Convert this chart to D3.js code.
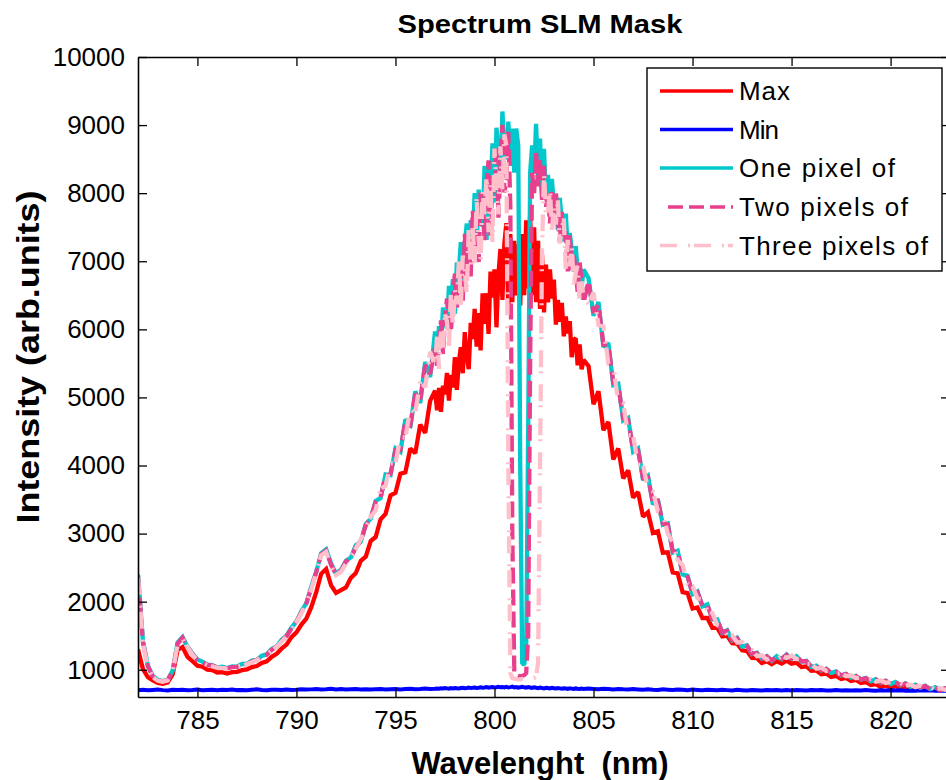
<!DOCTYPE html>
<html>
<head>
<meta charset="utf-8">
<script src="https://cdn.jsdelivr.net/npm/d3@7"></script>
<style>
  body { margin: 0; background: #fff; }
  svg { display: block; }
  text { font-family: "Liberation Sans", Arial, Helvetica, sans-serif; fill: #000; }
</style>
</head>
<body>
<svg id="chart" width="946" height="780"></svg>
<script>
// ---------------- DATA ----------------
const wavelength = [
  782, 782.25, 782.5, 782.75, 783, 783.25, 783.5, 783.75, 784, 784.25,
  784.5, 784.75, 785, 785.25, 785.5, 785.75, 786, 786.25, 786.5, 786.75,
  787, 787.25, 787.5, 787.75, 788, 788.25, 788.5, 788.75, 789, 789.25,
  789.5, 789.75, 790, 790.25, 790.5, 790.75, 791, 791.25, 791.5, 791.75,
  792, 792.25, 792.5, 792.75, 793, 793.25, 793.5, 793.75, 794, 794.25,
  794.5, 794.75, 795, 795.25, 795.5, 795.75, 796, 796.25, 796.5, 796.75,
  797, 797.1, 797.2, 797.3, 797.4, 797.5, 797.6, 797.7, 797.8, 797.9,
  798, 798.1, 798.2, 798.3, 798.4, 798.5, 798.6, 798.7, 798.8, 798.9,
  799, 799.1, 799.2, 799.3, 799.4, 799.5, 799.6, 799.7, 799.8, 799.9,
  800, 800.1, 800.2, 800.3, 800.4, 800.5,
  800.6, 800.7, 800.8, 800.9, 801, 801.1, 801.2, 801.3, 801.4, 801.5,
  801.6, 801.7, 801.8, 801.9, 802, 802.1, 802.2, 802.3, 802.4, 802.5, 802.6,
  802.7, 802.8, 802.9, 803, 803.1, 803.2, 803.3, 803.4, 803.5, 803.6,
  803.7, 803.8, 803.9, 804, 804.1, 804.2, 804.3, 804.4, 804.5,
  804.75, 805,
  805.25, 805.5, 805.75, 806, 806.25, 806.5, 806.75, 807, 807.25, 807.5,
  807.75, 808, 808.25, 808.5, 808.75, 809, 809.25, 809.5, 809.75, 810,
  810.25, 810.5, 810.75, 811, 811.25, 811.5, 811.75, 812, 812.25, 812.5,
  812.75, 813, 813.25, 813.5, 813.75, 814, 814.25, 814.5, 814.75, 815,
  815.25, 815.5, 815.75, 816, 816.25, 816.5, 816.75, 817, 817.25, 817.5,
  817.75, 818, 818.25, 818.5, 818.75, 819, 819.25, 819.5, 819.75, 820,
  820.25, 820.5, 820.75, 821, 821.25, 821.5, 821.75, 822, 822.25, 822.5,
  822.75, 823
];

const maxValues = [
  1300, 1010, 890, 845, 805, 795, 815, 930, 1290, 1335,
  1190, 1125, 1060, 1045, 1000, 995, 960, 965, 945, 965,
  970, 995, 1005, 1040, 1055, 1100, 1125, 1190, 1235, 1310,
  1370, 1480, 1550, 1665, 1750, 1920, 2140, 2410, 2480, 2240,
  2130, 2170, 2210, 2350, 2420, 2600, 2660, 2890, 2950, 3210,
  3290, 3560, 3600, 3880, 3900, 4250, 4180, 4600, 4480, 4950,
  5100, 4812, 5138, 4790, 5172, 5047, 5360, 4953, 5329, 5147,
  5592, 5110, 5520, 5737, 5355, 5960, 5610, 5416, 6097, 5860,
  6300, 5746, 6240, 5690, 6529, 6081, 6530, 5934, 6850, 6465,
  6880, 6030, 6808, 7180, 6432, 7264,
  7560, 6300, 7400, 6400, 7300, 6500, 7250, 6350, 7400, 6500,
  7600, 6600, 7700, 6500, 7500, 6400, 7300, 6300, 7100, 6250, 6950,
  6396, 6880, 6454, 6730, 6070, 6430, 6110, 6388, 5898, 6189,
  5940, 6120, 5590, 5846, 5868, 5472, 5780, 5413, 5552,
  5460, 4900,
  5090, 4520, 4640, 4090, 4250, 3810, 3930, 3530, 3610, 3250,
  3315, 3010, 3035, 2720, 2725, 2430, 2415, 2140, 2125, 1900,
  1915, 1760, 1760, 1615, 1615, 1490, 1500, 1390, 1385, 1285,
  1275, 1175, 1170, 1100, 1125, 1080, 1125, 1090, 1135, 1090,
  1105, 1040, 1050, 985, 990, 935, 945, 895, 910, 865,
  880, 835, 850, 805, 820, 775, 790, 747, 770, 735,
  762, 730, 755, 720, 747, 715, 740, 705, 730, 695,
  722, 690
];

const minValues = [
  700, 706, 698, 703, 709, 701, 697, 705, 702, 708,
  699, 704, 711, 700, 703, 707, 698, 705, 702, 709,
  701, 704, 699, 706, 712, 703, 700, 708, 705, 702,
  710, 704, 707, 715, 709, 712, 718, 710, 714, 720,
  712, 716, 709, 714, 718, 711, 715, 709, 713, 717,
  710, 714, 719, 712, 716, 721, 714, 718, 724, 717,
  720, 726, 722, 729, 724, 731, 727, 722, 730, 726,
  733, 728, 724, 731, 736, 729, 733, 738, 731, 735,
  740, 733, 737, 742, 736, 740, 745, 738, 742, 747,
  740, 744, 749, 742, 746, 741,
  748, 739, 745, 752, 741, 747, 738, 744, 750, 742,
  736, 745, 739, 733, 741, 736, 730, 738, 732, 727, 735,
  731, 726, 734, 729, 724, 732, 727, 722, 729, 725,
  720, 728, 723, 718, 726, 721, 717, 724, 719,
  725, 719,
  714, 722, 716, 711, 719, 713, 709, 716, 711, 706,
  714, 708, 704, 712, 707, 703, 710, 705, 701, 709,
  704, 700, 707, 702, 698, 706, 701, 697, 705, 700,
  696, 704, 699, 695, 703, 698, 702, 697, 701, 696,
  704, 699, 695, 703, 698, 702, 697, 694, 701, 696,
  700, 695, 699, 694, 702, 697, 693, 700, 695, 699,
  694, 698, 693, 697, 692, 699, 694, 698, 693, 697,
  692, 696
];

const onePixel = [
  2400, 1420, 1060, 910, 850, 835, 850, 990, 1400, 1480,
  1340, 1240, 1150, 1120, 1075, 1070, 1035, 1045, 1025, 1050,
  1045, 1085, 1085, 1135, 1145, 1205, 1225, 1305, 1345, 1440,
  1500, 1620, 1710, 1860, 1980, 2220, 2440, 2710, 2770, 2560,
  2410, 2470, 2600, 2650, 2830, 2880, 3140, 3220, 3480, 3520,
  3870, 3860, 4250, 4200, 4680, 4560, 5090, 4920, 5520, 5300,
  5970, 5682, 6048, 5728, 6320, 6130, 6012, 6640, 6308, 6736,
  6230, 6984, 6850, 7280, 6730, 7242, 7555, 6854, 7604, 7350,
  8000, 7196, 8052, 7792, 7508, 8400, 7313, 8408, 8040, 8733,
  7860, 8960, 8630, 8235, 9200, 8620,
  8500, 9050, 8400, 8950, 8300, 8950, 8700, 4000, 1100, 1070,
  1300, 4500, 8300, 8700, 8300, 9020, 8200, 8800, 8000, 8650, 7900,
  8270, 7790, 8210, 7790, 7940, 7460, 7930, 7580, 7290, 7700,
  7180, 7413, 7184, 6850, 7220, 6865, 6968, 6628, 6878,
  6750, 6200,
  6400, 5740, 5800, 5180, 5200, 4660, 4700, 4200, 4250, 3790,
  3850, 3430, 3500, 3130, 3150, 2720, 2750, 2400, 2380, 2110,
  2150, 1930, 1960, 1740, 1740, 1540, 1580, 1430, 1470, 1340,
  1360, 1230, 1250, 1160, 1200, 1130, 1200, 1155, 1225, 1160,
  1200, 1120, 1130, 1040, 1060, 990, 1015, 955, 975, 915,
  940, 885, 910, 855, 880, 830, 860, 810, 840, 790,
  820, 770, 800, 750, 780, 735, 765, 715, 745, 705,
  730, 705
];

const twoPixels = [
  2380, 1400, 1050, 900, 845, 830, 848, 980, 1385, 1470,
  1335, 1230, 1145, 1110, 1072, 1060, 1032, 1035, 1022, 1040,
  1042, 1072, 1082, 1122, 1142, 1192, 1222, 1292, 1342, 1425,
  1495, 1605, 1705, 1845, 1975, 2200, 2435, 2695, 2750, 2540,
  2400, 2455, 2590, 2640, 2800, 2890, 3120, 3230, 3464, 3536,
  3850, 3880, 4224, 4226, 4648, 4592, 5052, 4958, 5476, 5344,
  5734, 5466, 5813, 6132, 5635, 6138, 6452, 6037, 5952, 6456,
  6818, 6322, 6580, 6995, 6409, 7402, 6900, 7234, 6778, 7740,
  7400, 7232, 6989, 8007, 7766, 7310, 8113, 8481, 7372, 8170,
  8010, 8700, 7640, 8400, 9004, 8010,
  8200, 8900, 7800, 3000, 960, 920, 910, 905, 910, 920,
  950, 1500, 5500, 8300, 8000, 8600, 8100, 8500, 7900, 8400, 7800,
  8000, 7555, 8020, 7610, 8005, 7630, 7280, 7725, 7330, 7440,
  6850, 7382, 6870, 7100, 6840, 6550, 6982, 6687, 6391,
  6706, 6240,
  6360, 5776, 5764, 5212, 5168, 4690, 4670, 4228, 4222, 3816,
  3826, 3452, 3480, 3150, 3132, 2738, 2734, 2416, 2366, 2124,
  2138, 1942, 1949, 1751, 1730, 1550, 1571, 1439, 1462, 1348,
  1353, 1237, 1244, 1166, 1194, 1136, 1194, 1161, 1219, 1166,
  1195, 1125, 1125, 1045, 1055, 995, 1011, 959, 971, 919,
  936, 889, 906, 859, 876, 834, 856, 814, 836, 794,
  816, 774, 796, 754, 776, 739, 761, 719, 741, 699,
  726, 686
];

const threePixels = [
  2350, 1380, 1040, 890, 840, 825, 845, 970, 1370, 1460,
  1330, 1220, 1140, 1100, 1070, 1050, 1030, 1025, 1020, 1030,
  1040, 1060, 1080, 1110, 1140, 1180, 1220, 1280, 1340, 1410,
  1490, 1590, 1700, 1830, 1970, 2180, 2430, 2680, 2730, 2520,
  2390, 2440, 2560, 2660, 2780, 2920, 3080, 3250, 3340, 3660,
  3700, 4030, 4030, 4420, 4410, 4830, 4770, 5240, 5150, 5670,
  5468, 5891, 5421, 5968, 5725, 6225, 6116, 5742, 6553, 6022,
  6589, 6369, 7023, 6339, 7084, 6895, 6503, 7491, 6909, 7513,
  6980, 7921, 7322, 6997, 8024, 7693, 8260, 7428, 8159, 7275,
  8655, 8063, 7688, 8690, 8043, 8865,
  8700, 4000, 950, 880, 870, 865, 860, 860, 865, 860,
  865, 870, 870, 875, 880, 900, 1100, 4000, 7200, 8300, 7700,
  7705, 8058, 7435, 7825, 7540, 7893, 7260, 7480, 7625, 6888,
  7313, 6926, 7231, 6648, 6828, 6943, 6411, 6703, 6446,
  6376, 6540,
  6060, 6046, 5494, 5452, 4928, 4915, 4445, 4438, 4012, 4011,
  3646, 3617, 3330, 3300, 2997, 2873, 2614, 2536, 2261, 2229,
  2048, 2032, 1867, 1834, 1655, 1625, 1504, 1507, 1402, 1408,
  1300, 1290, 1199, 1211, 1149, 1181, 1149, 1206, 1174, 1211,
  1157, 1162, 1087, 1082, 1017, 1032, 981, 989, 941, 949,
  906, 919, 876, 889, 846, 864, 826, 844, 806, 824,
  786, 804, 766, 784, 746, 769, 731, 749, 711, 729,
  706, 716
];

const seriesNames = ["Max", "Min", "One pixel of", "Two pixels of", "Three pixels of"];
const xTickValues = [785, 790, 795, 800, 805, 810, 815, 820];
const yTickValues = [1000, 2000, 3000, 4000, 5000, 6000, 7000, 8000, 9000, 10000];
const titleText = "Spectrum SLM Mask";
const xLabelText = "Wavelenght  (nm)";
const yLabelText = "Intensity (arb.units)";

// ---------------- LAYOUT ----------------
const X0 = 138, X1 = 950, Y0 = 57, Y1 = 697;
const svg = d3.select("#chart");
const x = d3.scaleLinear().domain([782, 823]).range([X0, X1]);
const y = d3.scaleLinear().domain([600, 10000]).range([Y1, Y0]);

svg.append("defs").append("clipPath").attr("id", "plotClip")
  .append("rect").attr("x", X0).attr("y", Y0).attr("width", X1 - X0).attr("height", Y1 - Y0);

const styles = [
  { color: "#ff0000", dash: null, width: 4.3 },
  { color: "#0000ff", dash: null, width: 4.0 },
  { color: "#00c8cc", dash: null, width: 4.3 },
  { color: "#e8408c", dash: "16,6", width: 4.3 },
  { color: "#ffc0cb", dash: "17,11,2,4", width: 4.3 }
];
const valueLists = [maxValues, minValues, onePixel, twoPixels, threePixels];

const lineGen = d3.line().x(d => x(d[0])).y(d => y(d[1]));
const plot = svg.append("g").attr("clip-path", "url(#plotClip)");
valueLists.forEach((vals, k) => {
  const n = Math.min(vals.length, wavelength.length);
  const pts = [];
  for (let i = 0; i < n; i++) pts.push([wavelength[i], vals[i]]);
  plot.append("path")
    .attr("d", lineGen(pts))
    .attr("fill", "none")
    .attr("stroke", styles[k].color)
    .attr("stroke-width", styles[k].width)
    .attr("stroke-linejoin", "miter")
    .attr("stroke-miterlimit", 2)
    .attr("stroke-dasharray", styles[k].dash);
});

// ---------------- AXES ----------------
function styleAxis(g, showText) {
  g.select(".domain").attr("stroke", "#000").attr("stroke-width", 1.6);
  g.selectAll(".tick line").attr("stroke", "#000").attr("stroke-width", 1.3);
  g.selectAll(".tick text").attr("font-size", 26).attr("fill", "#000")
    .style("font-family", "'Liberation Sans', Arial, sans-serif");
  if (!showText) g.selectAll(".tick text").remove();
}
const fmt = d3.format("d");
const gB = svg.append("g").attr("transform", `translate(0,${Y1})`)
  .call(d3.axisBottom(x).tickValues(xTickValues).tickFormat(fmt).tickSizeInner(-9).tickSizeOuter(0).tickPadding(14));
styleAxis(gB, true);
const gT = svg.append("g").attr("transform", `translate(0,${Y0})`)
  .call(d3.axisTop(x).tickValues(xTickValues).tickSizeInner(-9).tickSizeOuter(0));
styleAxis(gT, false);
const gL = svg.append("g").attr("transform", `translate(${X0},0)`)
  .call(d3.axisLeft(y).tickValues(yTickValues).tickFormat(fmt).tickSizeInner(-9).tickSizeOuter(0).tickPadding(13));
styleAxis(gL, true);
const gR = svg.append("g").attr("transform", `translate(${X1},0)`)
  .call(d3.axisRight(y).tickValues(yTickValues).tickSizeInner(-9).tickSizeOuter(0));
styleAxis(gR, false);

// ---------------- TITLES ----------------
svg.append("text").attr("x", 540).attr("y", 33).attr("text-anchor", "middle")
  .attr("font-size", 26).attr("font-weight", "bold")
  .attr("textLength", 285).attr("lengthAdjust", "spacingAndGlyphs")
  .text(titleText);
svg.append("text").attr("x", 540).attr("y", 774).attr("text-anchor", "middle")
  .attr("font-size", 31).attr("font-weight", "bold").style("white-space", "pre")
  .text(xLabelText);
svg.append("text").attr("transform", "translate(39,357) rotate(-90)").attr("text-anchor", "middle")
  .attr("font-size", 31).attr("font-weight", "bold")
  .attr("textLength", 333).attr("lengthAdjust", "spacingAndGlyphs")
  .text(yLabelText);

// ---------------- LEGEND ----------------
const legend = svg.append("g");
legend.append("rect").attr("x", 647).attr("y", 68).attr("width", 295).attr("height", 203)
  .attr("fill", "#fff").attr("stroke", "#000").attr("stroke-width", 1.4);
const legRowY = [91, 129.5, 168, 207, 245.5];
const legLen = [51, 40, 156, 169, 189];
const legStart = [660, 660, 660, 668, 660];
seriesNames.forEach((name, k) => {
  legend.append("line")
    .attr("x1", legStart[k]).attr("x2", 733).attr("y1", legRowY[k]).attr("y2", legRowY[k])
    .attr("stroke", styles[k].color).attr("stroke-width", 3.4)
    .attr("stroke-dasharray", k === 3 ? "15,6" : styles[k].dash);
  legend.append("text").attr("x", 739).attr("y", legRowY[k]).attr("dy", "0.35em")
    .attr("font-size", 26)
    .attr("textLength", legLen[k]).attr("lengthAdjust", "spacing")
    .text(name);
});
</script>
</body>
</html>
